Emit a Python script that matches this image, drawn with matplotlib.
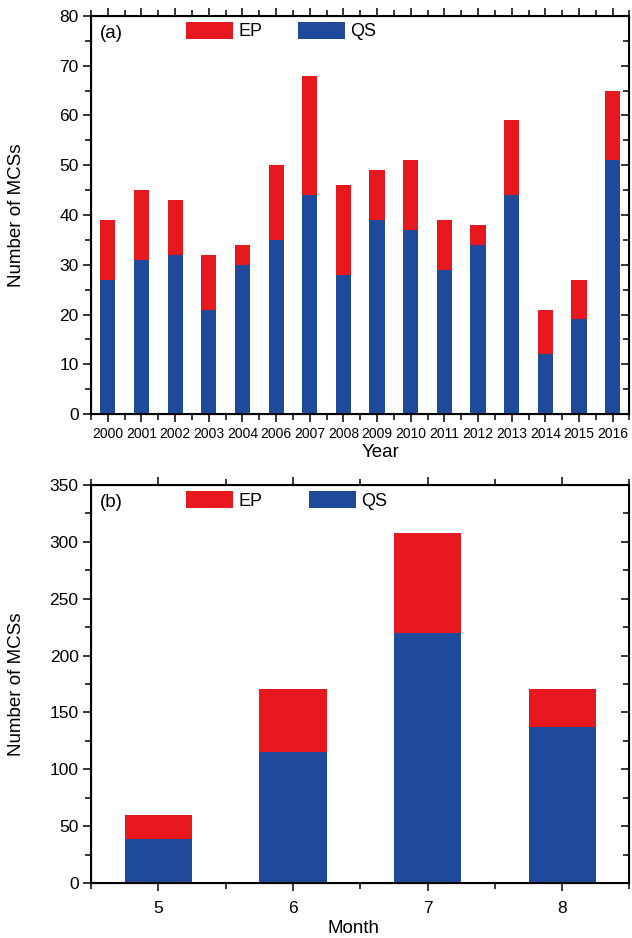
import numpy as np
import matplotlib
matplotlib.use('Agg')
import matplotlib.pyplot as plt
from matplotlib.ticker import MultipleLocator

plt.rcParams['font.family'] = ['Liberation Sans', 'DejaVu Sans']

RED = '#E8191E'
BLUE = '#1F4A9C'

# yearly counts (2005 missing from the record)
years = ['2000', '2001', '2002', '2003', '2004', '2006', '2007', '2008',
         '2009', '2010', '2011', '2012', '2013', '2014', '2015', '2016']
qs_year = [27, 31, 32, 21, 30, 35, 44, 28, 39, 37, 29, 34, 44, 12, 19, 51]
ep_year = [12, 14, 11, 11, 4, 15, 24, 18, 10, 14, 10, 4, 15, 9, 8, 14]

# monthly counts
months = [5, 6, 7, 8]
qs_month = [39, 115, 220, 137]
ep_month = [21, 56, 88, 34]


def style_axes(ax, ymax, ymajor, yminor):
    ax.set_ylim(0, ymax)
    ax.yaxis.set_major_locator(MultipleLocator(ymajor))
    ax.yaxis.set_minor_locator(MultipleLocator(yminor))
    for s in ax.spines.values():
        s.set_linewidth(1.5)
    ax.tick_params(which='both', direction='out', top=True, right=False, width=1.1)
    ax.tick_params(which='major', length=6)
    ax.tick_params(which='minor', length=4)
    ax.tick_params(axis='y', labelsize=12.5, pad=3)
    # right side ticks point inward
    ax2 = ax.twinx()
    ax2.set_ylim(0, ymax)
    ax2.yaxis.set_major_locator(MultipleLocator(ymajor))
    ax2.yaxis.set_minor_locator(MultipleLocator(yminor))
    ax2.tick_params(which='both', direction='in', labelright=False, width=1.1)
    ax2.tick_params(which='major', length=6)
    ax2.tick_params(which='minor', length=4)
    ax.set_ylabel('Number of MCSs', fontsize=13.5)
    ax.yaxis.set_label_coords(-0.122, 0.5)


def add_legend(ax, x0, colsp):
    ax.legend(loc='upper left', bbox_to_anchor=(x0, 0.985), ncol=2, frameon=False,
              fontsize=13, handlelength=2.6, handleheight=1.05, handletextpad=0.3,
              columnspacing=colsp, borderaxespad=0, borderpad=0)


fig = plt.figure(figsize=(6.32, 9.38), dpi=100)

# (a) per year
ax = fig.add_axes([0.144, 0.5586, 0.852, 0.4244])
x = np.arange(len(years))
ax.bar(x, ep_year, 0.45, bottom=qs_year, color=RED, label='EP')
ax.bar(x, qs_year, 0.45, color=BLUE, label='QS')
ax.set_xlim(-0.5, len(years) - 0.5)
ax.set_xticks(x)
ax.set_xticklabels(years)
ax.xaxis.set_minor_locator(MultipleLocator(0.5))
style_axes(ax, 80, 10, 5)
ax.tick_params(axis='x', labelsize=10, pad=3)
ax.set_xlabel('Year', fontsize=13.5)
ax.xaxis.set_label_coords(0.537, -0.076)
ax.text(0.016, 0.955, '(a)', transform=ax.transAxes, fontsize=13.5, va='center')
add_legend(ax, 0.176, 2.0)

# (b) per month
ax = fig.add_axes([0.144, 0.0586, 0.852, 0.4243])
ax.bar(months, ep_month, 0.5, bottom=qs_month, color=RED, label='EP')
ax.bar(months, qs_month, 0.5, color=BLUE, label='QS')
ax.set_xlim(4.5, 8.5)
ax.set_xticks(months)
ax.xaxis.set_minor_locator(MultipleLocator(0.5))
style_axes(ax, 350, 50, 25)
ax.tick_params(axis='x', labelsize=12.5, pad=7)
ax.set_xlabel('Month', fontsize=13.5)
ax.xaxis.set_label_coords(0.488, -0.094)
ax.text(0.016, 0.955, '(b)', transform=ax.transAxes, fontsize=13.5, va='center')
add_legend(ax, 0.176, 2.6)

fig.savefig('out.png', dpi=100)
